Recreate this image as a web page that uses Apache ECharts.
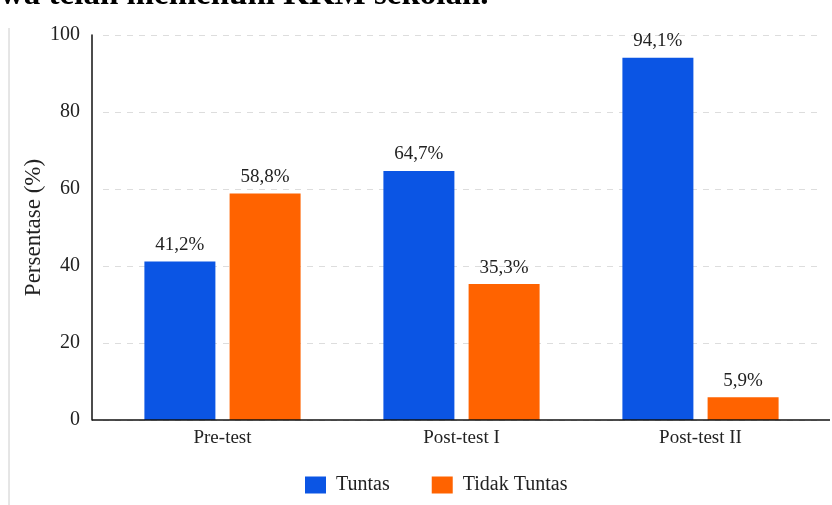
<!DOCTYPE html>
<html><head><meta charset="utf-8">
<script src="https://cdn.jsdelivr.net/npm/echarts@6/dist/echarts.min.js"></script>
<style>html,body{margin:0;padding:0;background:#fff}#c{width:832px;height:505px}</style>
</head><body><div id="c"></div>
<script>
const categories = ['Pre-test', 'Post-test I', 'Post-test II'];
const tuntas = [41.2, 64.7, 94.1];
const tidakTuntas = [58.8, 35.3, 5.9];
const yTicks = [0, 20, 40, 60, 80, 100];
const seriesNames = ['Tuntas', 'Tidak Tuntas'];

const serif = '"Liberation Serif", "DejaVu Serif", serif';
const fmt = p => p.value.toFixed(1).replace('.', ',') + '%';
const chart = echarts.init(document.getElementById('c'));
chart.setOption({
  animation: false,
  backgroundColor: '#fff',
  textStyle: { fontFamily: serif },
  grid: { left: 103, right: 12, top: 35, bottom: 85 },
  legend: {
    data: seriesNames, bottom: 5, left: 300,
    itemWidth: 21, itemHeight: 17, itemGap: 42,
    icon: 'rect',
    textStyle: { fontFamily: serif, fontSize: 20, color: '#222', padding: [0, 0, 0, 5] }
  },
  xAxis: {
    type: 'category', data: categories,
    axisLine: { show: false },
    axisTick: { show: false },
    axisLabel: { fontFamily: serif, fontSize: 19, color: '#222', margin: 9 }
  },
  yAxis: {
    type: 'value', min: yTicks[0], max: yTicks[yTicks.length - 1], interval: 20,
    offset: 11,
    name: 'Persentase (%)', nameLocation: 'middle', nameGap: 47, nameMoveOverlap: false,
    nameTextStyle: { fontFamily: serif, fontSize: 23, color: '#222' },
    axisLine: { show: true, lineStyle: { color: '#111', width: 1.5 } },
    axisTick: { show: false },
    axisLabel: { fontFamily: serif, fontSize: 20, color: '#222', margin: 12 },
    splitLine: { show: true, lineStyle: { type: [6, 6], color: '#ddd' } }
  },
  series: [
    { name: seriesNames[0], type: 'bar', data: tuntas, barWidth: 71, barGap: '20%',
      itemStyle: { color: '#0b55e4' },
      label: { show: true, position: 'top', distance: 7, formatter: fmt, fontFamily: serif, fontSize: 19, color: '#222' } },
    { name: seriesNames[1], type: 'bar', data: tidakTuntas, barWidth: 71,
      itemStyle: { color: '#ff6300' },
      label: { show: true, position: 'top', distance: 7, formatter: fmt, fontFamily: serif, fontSize: 19, color: '#222' } }
  ],
  graphic: [
    { type: 'line', shape: { x1: 92, y1: 420, x2: 830, y2: 420 }, style: { stroke: '#111', lineWidth: 1.5 }, z: 10 },
    { type: 'line', shape: { x1: 9, y1: 28, x2: 9, y2: 505 }, style: { stroke: '#ccc', lineWidth: 1 } },
    { type: 'text', left: 0, top: -21, style: { text: 'wa telah memenuhi KKM sekolah.', font: 'bold 33px "Liberation Serif", serif', fill: '#000' } }
  ]
});
</script></body></html>
